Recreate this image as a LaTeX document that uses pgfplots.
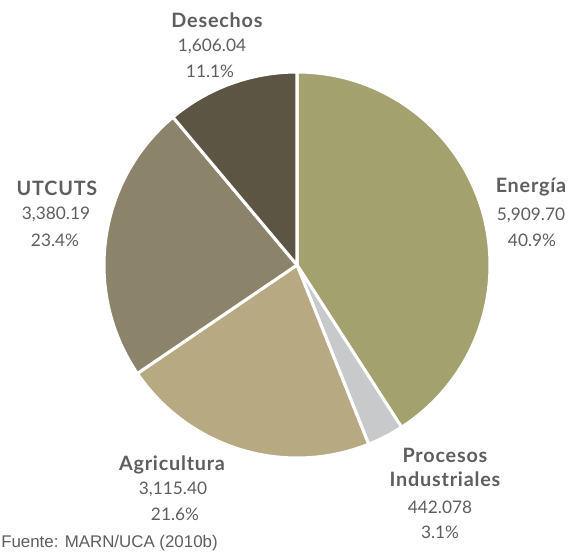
\documentclass[border=0pt]{standalone}
\usepackage{pgfplots}
\pgfplotsset{compat=1.18}
\usepackage{fontspec}
\setmainfont{Lato}
\newfontfamily\heavyf{Lato}[UprightFeatures={FakeBold=1.6}, LetterSpace=4]
\newfontfamily\arialf{Liberation Sans}
\definecolor{cEn}{HTML}{A3A16E}
\definecolor{cPr}{HTML}{C8C9CB}
\definecolor{cAg}{HTML}{B7AA82}
\definecolor{cUt}{HTML}{8B836A}
\definecolor{cDe}{HTML}{5D5543}
\definecolor{txt}{HTML}{5E5E5E}
% values
\def\vEn{5909.70}
\def\vPr{442.078}
\def\vAg{3115.40}
\def\vUt{3380.19}
\def\vDe{1606.04}
\pgfmathsetmacro\vTot{\vEn+\vPr+\vAg+\vUt+\vDe}
\pgfmathsetmacro\aA{90}
\pgfmathsetmacro\aB{\aA-360*(\vEn/\vTot)}
\pgfmathsetmacro\aC{\aB-360*(\vPr/\vTot)}
\pgfmathsetmacro\aD{\aC-360*(\vAg/\vTot)}
\pgfmathsetmacro\aE{\aD-360*(\vUt/\vTot)}
\pgfmathsetmacro\aF{\aE-360*(\vDe/\vTot)}
\newcommand\pieWedge[3]{%
  \fill[#1, draw=white, line width=2.2pt, line join=round]
    (axis cs:297,265) -- ++(#2:1.93in) arc[start angle=#2, end angle=#3, radius=1.93in] -- cycle;}
\begin{document}
\begin{tikzpicture}
\begin{axis}[
  width=5.72in, height=5.52in, scale only axis,
  xmin=0, xmax=572, ymin=0, ymax=552, y dir=reverse,
  hide axis, clip=false]
\pieWedge{cEn}{\aA}{\aB}
\pieWedge{cPr}{\aB}{\aC}
\pieWedge{cAg}{\aC}{\aD}
\pieWedge{cUt}{\aD}{\aE}
\pieWedge{cDe}{\aE}{\aF}
\begin{scope}[every node/.style={text=txt, font=\fontsize{12.5}{14}\selectfont, inner sep=0pt, anchor=center},
  lab/.style={font=\heavyf\bfseries\fontsize{14.3}{16}\selectfont}]
\node[lab] at (axis cs:217,20) {Desechos};
\node at (axis cs:212,46) {1,606.04};
\node at (axis cs:210,71) {11.1\%};
\node[lab] at (axis cs:57,188) {UTCUTS};
\node at (axis cs:56,214) {3,380.19};
\node at (axis cs:55,240) {23.4\%};
\node[lab] at (axis cs:531,187) {Energía};
\node at (axis cs:531,215) {5,909.70};
\node at (axis cs:532,240) {40.9\%};
\node[lab] at (axis cs:172,465) {Agricultura};
\node at (axis cs:173,489) {3,115.40};
\node at (axis cs:175,514) {21.6\%};
\node[lab] at (axis cs:445,455) {Procesos};
\node[lab] at (axis cs:445,479) {Industriales};
\node at (axis cs:440,507) {442.078};
\node at (axis cs:440,532) {3.1\%};
\node[anchor=west, font=\arialf\fontsize{12.2}{14}\selectfont] at (axis cs:1,543) {Fuente: MARN/UCA (2010b)};
\end{scope}
\end{axis}
\pgfresetboundingbox
\useasboundingbox (current axis.south west) rectangle (current axis.north east);
\end{tikzpicture}
\end{document}
